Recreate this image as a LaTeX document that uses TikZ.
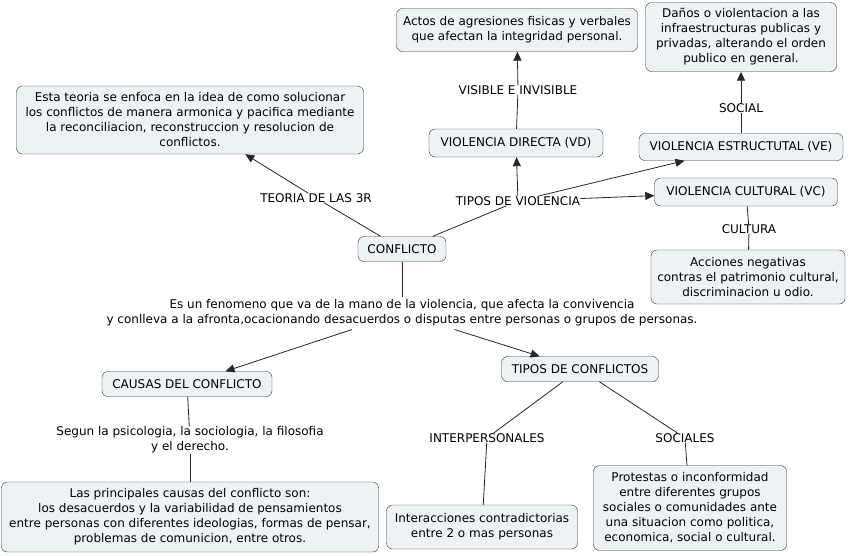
\documentclass[tikz,border=0pt]{standalone}
\usepackage{fontspec}
\setmainfont{DejaVu Sans}
\usetikzlibrary{arrows.meta}

\definecolor{boxfill}{RGB}{237,243,245}

\tikzset{
  concept/.style={draw=black!80, fill=boxfill, rounded corners=6pt, align=center,
    inner sep=2pt, font=\fontsize{12}{15}\selectfont},
  boxsize/.style 2 args={minimum width=#1pt, minimum height=#2pt},
  phrase/.style={align=center, inner sep=0pt, font=\fontsize{12}{15}\selectfont},
  link/.style={draw=black!85, line width=0.8pt},
  linkto/.style={link, -{Triangle[length=9pt,width=8pt]}}
}

\begin{document}
\begin{tikzpicture}[x=1pt,y=-1pt]
\useasboundingbox (0,0) rectangle (851,555);

\node[concept,boxsize={347}{68}] (teoria) at (190,120)
  {Esta teoria se enfoca en la idea de como solucionar\\
   los conflictos de manera armonica y pacifica mediante\\
   la reconciliacion, reconstruccion y resolucion de\\
   conflictos.};
\node[concept,boxsize={241}{43}] (actos) at (517,30)
  {Actos de agresiones fisicas y verbales\\ que afectan la integridad personal.};
\node[concept,boxsize={191}{69}] (danos) at (741,37)
  {Daños o violentacion a las\\ infraestructuras publicas y\\
   privadas, alterando el orden\\ publico en general.};
\node[concept,boxsize={174}{28}] (vd) at (516,143) {VIOLENCIA DIRECTA (VD)};
\node[concept,boxsize={204}{27}] (ve) at (741,147) {VIOLENCIA ESTRUCTUTAL (VE)};
\node[concept,boxsize={183}{28}] (vc) at (746,192) {VIOLENCIA CULTURAL (VC)};
\node[concept,boxsize={194}{54}] (acciones) at (748,277)
  {Acciones negativas\\ contras el patrimonio cultural,\\ discriminacion u odio.};
\node[concept,boxsize={88}{25}] (conflicto) at (402,249) {CONFLICTO};
\node[phrase,inner ysep=3pt] (desc) at (402,313)
  {Es un fenomeno que va de la mano de la violencia, que afecta la convivencia\\
   y conlleva a la afronta,ocacionando desacuerdos o disputas entre personas o grupos de personas.};
\node[concept,boxsize={170}{25}] (causas) at (187,384) {CAUSAS DEL CONFLICTO};
\node[concept,boxsize={377}{70}] (principales) at (190,517)
  {Las principales causas del conflicto son:\\
   los desacuerdos y la variabilidad de pensamientos\\
   entre personas con diferentes ideologias, formas de pensar,\\
   problemas de comunicion, entre otros.};
\node[concept,boxsize={157}{25}] (tc) at (580,369) {TIPOS DE CONFLICTOS};
\node[concept,boxsize={191}{44}] (interacciones) at (482,527)
  {Interacciones contradictorias\\ entre 2 o mas personas};
\node[concept,boxsize={193}{85}] (protestas) at (690,508)
  {Protestas o inconformidad\\ entre diferentes grupos\\ sociales o comunidades ante\\
   una situacion como politica,\\ economica, social o cultural.};

\node[phrase] (l3r) at (316,198) {TEORIA DE LAS 3R};
\node[phrase] (tv) at (518,201) {TIPOS DE VIOLENCIA};
\node[phrase] (visible) at (518,90) {VISIBLE E INVISIBLE};
\node[phrase] (social) at (741,108) {SOCIAL};
\node[phrase] (cultura) at (749,229) {CULTURA};
\node[phrase] (segun) at (190,440)
  {Segun la psicologia, la sociologia, la filosofia\\ y el derecho.};
\node[phrase] (inter) at (487,438) {INTERPERSONALES};
\node[phrase] (sociales) at (685,438) {SOCIALES};

\draw[link] (conflicto) -- (l3r);
\draw[linkto] (l3r) -- (teoria);
\draw[link] (conflicto) -- (tv);
\draw[linkto] (tv) -- (vd);
\draw[linkto] (tv) -- (ve);
\draw[linkto] (tv) -- (vc);
\draw[link] (vd) -- (visible);
\draw[linkto] (visible) -- (actos);
\draw[link] (ve) -- (social);
\draw[linkto] (social) -- (danos);
\draw[link] (vc) -- (cultura);
\draw[link] (cultura) -- (acciones);
\draw[link] (conflicto) -- (desc);
\draw[linkto] (desc) -- (causas);
\draw[linkto] (desc) -- (tc);
\draw[link] (causas) -- (segun);
\draw[link] (segun) -- (principales);
\draw[link] (tc) -- (inter);
\draw[link] (inter) -- (interacciones);
\draw[link] (tc) -- (sociales);
\draw[link] (sociales) -- (protestas);
\end{tikzpicture}
\end{document}
